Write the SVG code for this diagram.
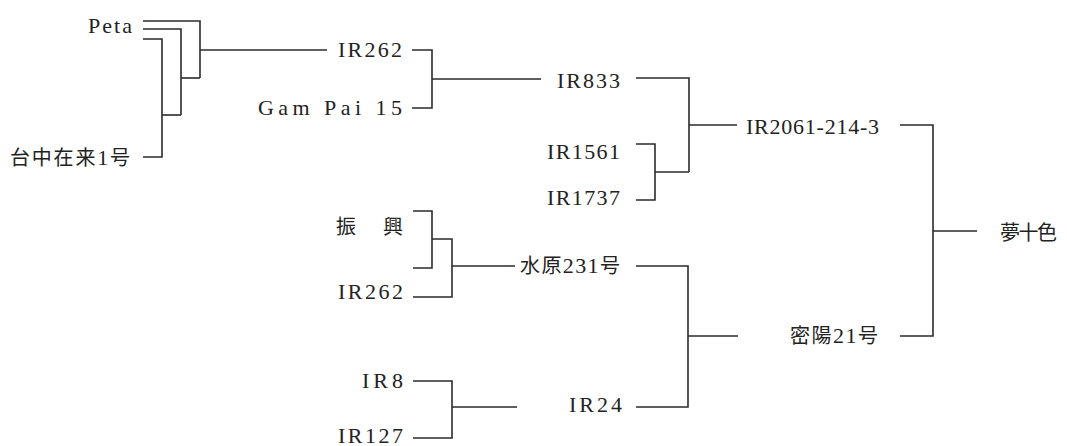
<svg xmlns="http://www.w3.org/2000/svg" width="1067" height="446" viewBox="0 0 1067 446">
<style>
  .ln { fill: none; stroke: #2b2b2b; stroke-width: 1.6; }
  .t { font-family: "Liberation Serif", "DejaVu Serif", serif; font-size: 22px; fill: #222; text-anchor: end; }
  .cjk { font-family: "Noto Sans CJK JP", "Noto Sans CJK SC", sans-serif; font-size: 20px; fill: #222; text-anchor: end; }
  .num { font-family: "Liberation Serif", "DejaVu Serif", serif; font-size: 22px; }
</style>
<rect width="1067" height="446" fill="#ffffff"/>
<g id="connectors" class="ln">
  <path d="M143,21 H200 V78"/>
  <path d="M143,29 H181 V115"/>
  <path d="M181,78 H200"/>
  <path d="M143,39 H162 V157 H143"/>
  <path d="M162,115 H181"/>
  <path d="M200,50 H327"/>
  <path d="M412,50 H432 V108 H412"/>
  <path d="M432,79 H541"/>
  <path d="M636,78 H689 V172"/>
  <path d="M636,144 H655 V200 H636"/>
  <path d="M655,172 H689"/>
  <path d="M689,125 H737"/>
  <path d="M900,125 H933 V336 H900"/>
  <path d="M933,231 H977"/>
  <path d="M413,211 H432 V268 H413"/>
  <path d="M432,239 H452 V297 H413"/>
  <path d="M452,266 H515"/>
  <path d="M636,266 H688 V407 H636"/>
  <path d="M688,336 H738"/>
  <path d="M413,381 H452 V438 H413"/>
  <path d="M452,407 H517"/>
</g>
<g id="peta"><text class="t" x="132" y="33" textLength="44" lengthAdjust="spacing">Peta</text></g>
<g id="taichung"><text class="cjk" x="130" y="165" textLength="120" lengthAdjust="spacing">台中在来<tspan class="num">1</tspan>号</text></g>
<g id="ir262a"><text class="t" x="402" y="57" textLength="64" lengthAdjust="spacing">IR262</text></g>
<g id="gampai"><text class="t" x="402" y="115" textLength="144" lengthAdjust="spacing">Gam Pai 15</text></g>
<g id="ir833"><text class="t" x="620" y="88" textLength="63" lengthAdjust="spacing">IR833</text></g>
<g id="ir1561"><text class="t" x="620" y="159" textLength="73" lengthAdjust="spacing">IR1561</text></g>
<g id="ir1737"><text class="t" x="620" y="205" textLength="73" lengthAdjust="spacing">IR1737</text></g>
<g id="ir2061"><text class="t" x="879" y="134" textLength="133" lengthAdjust="spacing">IR2061-214-3</text></g>
<g id="yumetoiro"><text class="cjk" x="1057" y="240" textLength="57" lengthAdjust="spacing">夢十色</text></g>
<g id="milyang"><text class="cjk" x="878" y="343" textLength="88" lengthAdjust="spacing">密陽<tspan class="num">21</tspan>号</text></g>
<g id="shinko"><text class="cjk" x="403" y="234" textLength="67" lengthAdjust="spacing">振 興</text></g>
<g id="suwon"><text class="cjk" x="620" y="273" textLength="100" lengthAdjust="spacing">水原<tspan class="num">231</tspan>号</text></g>
<g id="ir262b"><text class="t" x="403" y="299" textLength="65" lengthAdjust="spacing">IR262</text></g>
<g id="ir8"><text class="t" x="403" y="388" textLength="41" lengthAdjust="spacing">IR8</text></g>
<g id="ir127"><text class="t" x="403" y="443" textLength="65" lengthAdjust="spacing">IR127</text></g>
<g id="ir24"><text class="t" x="622" y="412" textLength="53" lengthAdjust="spacing">IR24</text></g>
</svg>
